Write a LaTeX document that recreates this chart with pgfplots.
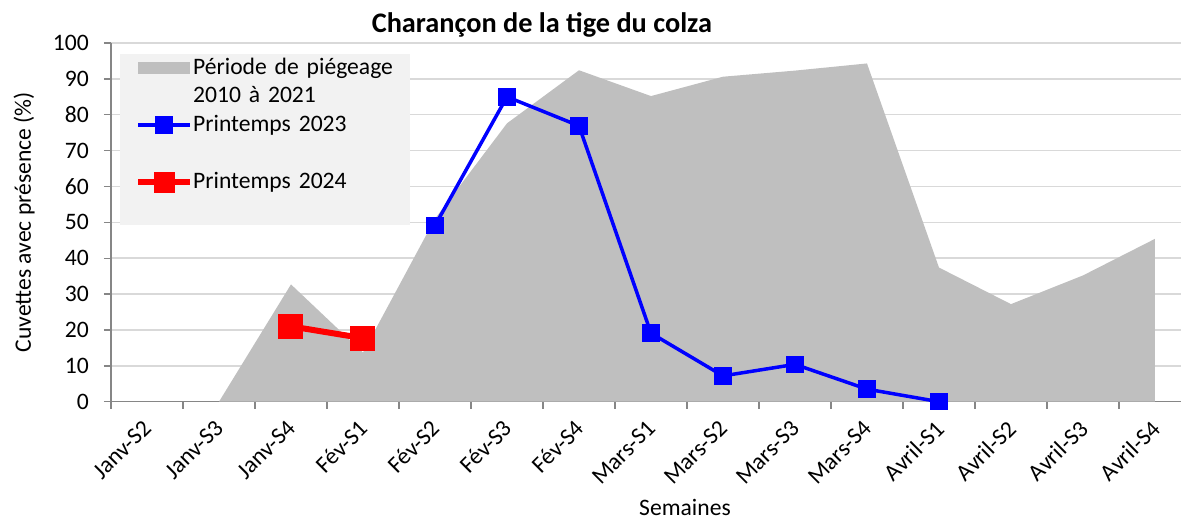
\documentclass[border=0pt]{standalone}
\usepackage{pgfplots}
\pgfplotsset{compat=1.18}
\usepackage{fontspec}
\setmainfont{Carlito}
\definecolor{areagray}{HTML}{BFBFBF}
\definecolor{legbg}{HTML}{F2F2F2}
\definecolor{gridgray}{HTML}{D9D9D9}
\definecolor{axgray}{HTML}{868686}
\newcommand{\lbl}{\fontsize{23.6}{28}\selectfont}
\pgfplotsset{
  blueleg/.style={legend image code/.code={\draw[##1] plot[mark repeat=2, mark phase=2] coordinates {(0pt,0pt) (26pt,0pt) (52pt,0pt)};}},
  redleg/.style={legend image code/.code={\draw[##1, mark size=7.5pt] plot[mark repeat=2, mark phase=2] coordinates {(0pt,0pt) (26pt,0pt) (52pt,0pt)};}},
  arealeg/.style={legend image code/.code={\fill[areagray] (0pt,-6pt) rectangle (52pt,6pt);}},
}
\begin{document}
\begin{tikzpicture}
\useasboundingbox (0,0) rectangle (1181pt,519pt);
\begin{axis}[
  at={(111pt,117.3pt)}, anchor=south west,
  scale only axis, width=1080pt, height=358.7pt,
  xmin=-0.5, xmax=14.5, ymin=0, ymax=100,
  clip=false,
  axis x line*=bottom, axis y line*=left,
  axis line style={axgray, line width=1.4pt, -},
  xtick={-0.5,0.5,...,14.5},
  xticklabels={},
  extra x ticks={0,1,...,14},
  extra x tick labels={Janv-S2,Janv-S3,Janv-S4,Fév-S1,Fév-S2,Fév-S3,Fév-S4,Mars-S1,Mars-S2,Mars-S3,Mars-S4,Avril-S1,Avril-S2,Avril-S3,Avril-S4},
  extra x tick style={major tick length=0pt, ymajorgrids=false,
     xticklabel style={xshift=-5pt, yshift=-17pt, rotate=45, anchor=north east, inner sep=0pt, font=\lbl}},
  ytick={0,10,...,100},
  tick align=outside,
  major tick length=7pt,
  tick style={axgray, line width=1.4pt},
  ymajorgrids,
  grid style={gridgray, line width=1.5pt},
  /pgf/number format/assume math mode=true,
  yticklabel style={anchor=east, inner sep=0pt, xshift=-15pt, font=\lbl},
  title={Charançon de la tige du colza},
  every axis title/.style={at={(axis description cs:0.399,1)}, anchor=base, yshift=10.7pt, font=\fontsize{28.3}{32}\selectfont\bfseries},
  ylabel={Cuvettes avec présence (\%)},
  every axis y label/.style={at={(axis description cs:0,0.5)}, xshift=-80pt, rotate=90, anchor=base, font=\lbl},
  xlabel={Semaines},
  every axis x label/.style={at={(axis description cs:0.5315,0)}, yshift=-113.5pt, anchor=base, font=\lbl},
  legend style={at={(axis description cs:0.0083,0.971)}, anchor=north west,
    fill=legbg, draw=none, inner xsep=15pt, inner ysep=0pt, font=\lbl,
    row sep=0pt,
    nodes={inner xsep=0pt, inner ysep=0pt, text height=20.5pt, text depth=8.1pt, text width=202pt, align=left},
    /tikz/every odd column/.style={column sep=0pt}},
  legend cell align=left,
]
\addplot[fill=areagray, draw=none, arealeg]
  coordinates {(1,0) (2,32.7) (3,13.7) (4,51) (5,77.6) (6,92.4) (7,85.2) (8,90.6) (9,92.3) (10,94.3) (11,37.4) (12,27.2) (13,35.2) (14,45.4)} \closedcycle;
\addlegendentry{Période de piégeage}
\addlegendimage{empty legend}
\addlegendentry{2010 à 2021}
\addplot[color=blue, line width=3.5pt, mark=square*, mark size=7pt, mark options={solid}, blueleg]
  coordinates {(4,49.1) (5,85.0) (6,76.9) (7,19.1) (8,7.2) (9,10.4) (10,3.5) (11,0)};
\addlegendentry{Printemps 2023}
\addlegendimage{empty legend}
\addlegendentry{}
\addplot[color=red, line width=6pt, mark=square*, mark size=9.5pt, mark options={solid}, redleg]
  coordinates {(2,21.0) (3,17.7)};
\addlegendentry{Printemps 2024}
\addlegendimage{empty legend}
\addlegendentry{}
\end{axis}
\end{tikzpicture}
\end{document}
